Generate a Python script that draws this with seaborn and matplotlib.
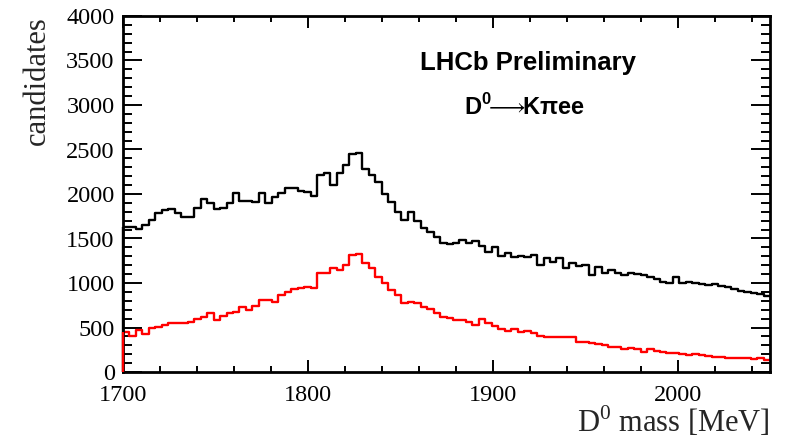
import numpy as np
import pandas as pd
import seaborn as sns
import matplotlib
matplotlib.use("Agg")
import matplotlib.pyplot as plt
from matplotlib.ticker import MultipleLocator

# D0 mass window and binning (3.5 MeV bins)
mass_lo, mass_hi, n_bins = 1700, 2050, 100

# Candidates per bin before the final selection
all_candidates = [
    1625, 1625, 1603, 1652, 1708, 1783, 1820, 1828, 1790, 1738,
    1738, 1839, 1940, 1895, 1828, 1839, 1902, 2015, 1921, 1925,
    1914, 2015, 1895, 1962, 2015, 2063, 2063, 2037, 2026, 1977,
    2213, 2232, 2101, 2240, 2326, 2449, 2457, 2277, 2213, 2138,
    2000, 1914, 1801, 1708, 1801, 1700, 1614, 1577, 1520, 1446,
    1438, 1453, 1483, 1446, 1472, 1416, 1352, 1408, 1303, 1333,
    1296, 1303, 1288, 1315, 1202, 1277, 1240, 1277, 1165, 1221,
    1191, 1202, 1090, 1183, 1108, 1146, 1116, 1090, 1108, 1101,
    1090, 1071, 1041, 1015, 996, 1064, 1004, 1015, 1004, 989,
    977, 989, 966, 951, 929, 914, 903, 891, 876, 854,
]

# Candidates per bin after the final selection
selected_candidates = [
    453, 404, 472, 427, 498, 509, 528, 547, 554, 547,
    565, 592, 622, 667, 584, 629, 667, 678, 734, 697,
    742, 809, 809, 790, 865, 903, 933, 948, 951, 940,
    1116, 1116, 1165, 1146, 1202, 1314, 1326, 1221, 1165, 1071,
    996, 921, 865, 771, 790, 771, 727, 708, 667, 622,
    603, 584, 584, 565, 528, 592, 547, 517, 479, 464,
    479, 453, 464, 434, 404, 389, 389, 389, 397, 389,
    341, 341, 330, 315, 303, 285, 277, 255, 266, 255,
    228, 255, 240, 228, 210, 210, 202, 191, 202, 191,
    180, 172, 165, 154, 154, 154, 154, 142, 154, 135,
]

edges = np.linspace(mass_lo, mass_hi, n_bins + 1)
centers = 0.5 * (edges[:-1] + edges[1:])

sns.set_theme(style="ticks")
plt.rcParams["font.family"] = ["Liberation Serif", "DejaVu Serif"]
plt.rcParams["mathtext.fontset"] = "custom"
plt.rcParams["mathtext.rm"] = "Liberation Serif"
plt.rcParams["mathtext.bf"] = "Liberation Sans:bold"
plt.rcParams["mathtext.fallback"] = "stix"
plt.rcParams["axes.edgecolor"] = "black"
plt.rcParams["xtick.color"] = "black"
plt.rcParams["ytick.color"] = "black"
plt.rcParams["text.color"] = "black"

fig = plt.figure(figsize=(7.9, 4.4), dpi=100)
ax = fig.add_axes([123 / 790, 68 / 440, 647 / 790, 356 / 440])

hist_lw = 1.7
for counts, color in ((all_candidates, "black"), (selected_candidates, "#ff0000")):
    frame = pd.DataFrame({"mass": centers, "count": np.asarray(counts, dtype=float)})
    sns.histplot(data=frame, x="mass", weights="count", bins=n_bins,
                 binrange=(mass_lo, mass_hi), element="step", fill=False,
                 color=color, linewidth=hist_lw, ax=ax)
    # outline drops to zero at the lower edge of the first bin
    ax.vlines(edges[0], 0, counts[0], color=color, lw=hist_lw,
              clip_on=False, zorder=3)

ax.set_xlim(mass_lo, mass_hi)
ax.set_ylim(0, 4000)

ax.xaxis.set_major_locator(MultipleLocator(100))
ax.xaxis.set_minor_locator(MultipleLocator(20))
ax.yaxis.set_major_locator(MultipleLocator(500))
ax.yaxis.set_minor_locator(MultipleLocator(100))

ax.tick_params(axis="both", which="both", direction="in", top=True, right=True,
               width=1.4, labelsize=17.5)
ax.tick_params(axis="x", which="major", length=8.6, pad=9)
ax.tick_params(axis="x", which="minor", length=4.3)
ax.tick_params(axis="y", which="major", length=13.5, pad=6)
ax.tick_params(axis="y", which="minor", length=6.8)

for side in ax.spines.values():
    side.set_linewidth(2.0)
    side.set_color("black")

ax.set_xlabel(r"D$^{0}$ mass [MeV]", fontsize=22, loc="right")
ax.xaxis.set_label_coords(1.0, -0.09)
ax.set_ylabel("candidates", fontsize=22, loc="top")
ax.yaxis.set_label_coords(-0.11, 1.0)

sans = ["Liberation Sans", "DejaVu Sans"]
ax.text(0.626, 0.868, "LHCb Preliminary", transform=ax.transAxes,
        ha="center", va="center", fontsize=18.5, fontweight="bold", family=sans)
ax.text(0.621, 0.744, r"D$^{\mathbf{0}}$$\!\!\longrightarrow\!\!$Kπee",
        transform=ax.transAxes, ha="center", va="center", fontsize=17,
        fontweight="bold", family=sans)

fig.savefig("out.png", dpi=100)
